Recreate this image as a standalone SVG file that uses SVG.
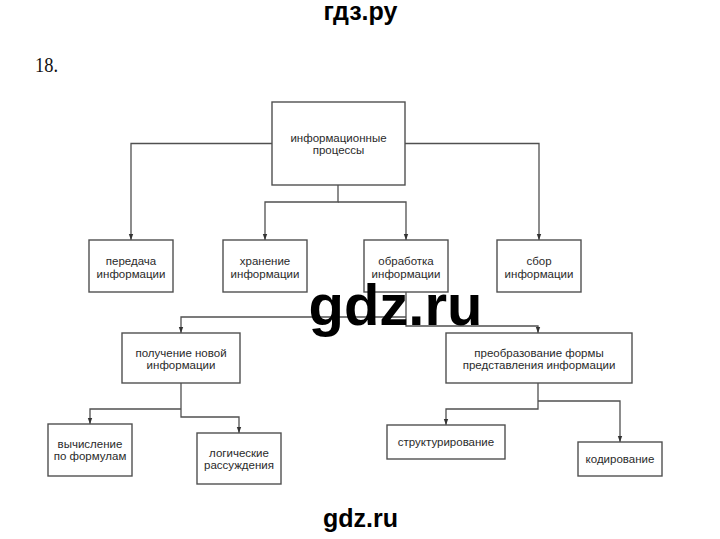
<svg xmlns="http://www.w3.org/2000/svg" width="720" height="539" viewBox="0 0 720 539">
<defs>
<marker id="ah" markerUnits="userSpaceOnUse" markerWidth="6" markerHeight="6" refX="6" refY="3" orient="auto" viewBox="0 0 6 6">
<path d="M0,0.8 L6,3 L0,5.2 Z" fill="#333"/>
</marker>
</defs>
<style>
.box{fill:#fff;stroke:#505050;stroke-width:1.4}
.lbl{font-family:"Liberation Sans",Arial,sans-serif;font-size:11.5px;fill:#2a2a2a;text-anchor:middle}
.con{fill:none;stroke:#505050;stroke-width:1.3}
.wm{font-family:"Liberation Sans",Arial,sans-serif;font-weight:bold;fill:#000;text-anchor:middle}
</style>
<rect width="720" height="539" fill="#fff"/>
<text class="wm" x="360.5" y="20" font-size="25">гдз.ру</text>
<text x="35" y="72" font-family="Liberation Serif,'Times New Roman',serif" font-size="21" fill="#111" textLength="23" lengthAdjust="spacingAndGlyphs">18.</text>

<g id="connectors">
<path class="con" d="M338,185 V202 H265 V240" marker-end="url(#ah)"/>
<path class="con" d="M338,202 H406 V240" marker-end="url(#ah)"/>
<path class="con" d="M272,143.5 H131 V240" marker-end="url(#ah)"/>
<path class="con" d="M405,143.5 H539 V240" marker-end="url(#ah)"/>
<path class="con" d="M406,292 V326 H538 V333" marker-end="url(#ah)"/>
<path class="con" d="M406,317 H181 V333" marker-end="url(#ah)"/>
<path class="con" d="M181,383 V417 H239 V433" marker-end="url(#ah)"/>
<path class="con" d="M181,409 H90 V424" marker-end="url(#ah)"/>
<path class="con" d="M538,383 V409 H446 V425" marker-end="url(#ah)"/>
<path class="con" d="M538,401 H620 V442" marker-end="url(#ah)"/>
</g>

<g id="n-info-processes">
<rect class="box" x="272" y="102" width="133" height="83"/>
<text class="lbl" x="338.5" y="141.5">информационные</text>
<text class="lbl" x="338.5" y="154">процессы</text>
</g>
<g id="n-peredacha">
<rect class="box" x="89" y="240" width="84" height="52"/>
<text class="lbl" x="131" y="265">передача</text>
<text class="lbl" x="131" y="277.5">информации</text>
</g>
<g id="n-hranenie">
<rect class="box" x="223" y="240" width="84" height="52"/>
<text class="lbl" x="265" y="265">хранение</text>
<text class="lbl" x="265" y="277.5">информации</text>
</g>
<g id="n-obrabotka">
<rect class="box" x="364" y="240" width="84" height="52"/>
<text class="lbl" x="406" y="265">обработка</text>
<text class="lbl" x="406" y="277.5">информации</text>
</g>
<g id="n-sbor">
<rect class="box" x="497" y="240" width="84" height="52"/>
<text class="lbl" x="539" y="265">сбор</text>
<text class="lbl" x="539" y="277.5">информации</text>
</g>
<g id="n-poluchenie">
<rect class="box" x="122" y="333" width="118" height="50"/>
<text class="lbl" x="181" y="356.5">получение новой</text>
<text class="lbl" x="181" y="368.5">информации</text>
</g>
<g id="n-preobrazovanie">
<rect class="box" x="446" y="333" width="186" height="50"/>
<text class="lbl" x="539" y="356.5">преобразование формы</text>
<text class="lbl" x="539" y="368.5">представления информации</text>
</g>
<g id="n-vychislenie">
<rect class="box" x="48" y="424" width="84" height="52"/>
<text class="lbl" x="90" y="448">вычисление</text>
<text class="lbl" x="90" y="460">по формулам</text>
</g>
<g id="n-logicheskie">
<rect class="box" x="197" y="433" width="84" height="51"/>
<text class="lbl" x="239" y="457">логические</text>
<text class="lbl" x="239" y="469">рассуждения</text>
</g>
<g id="n-strukturirovanie">
<rect class="box" x="387" y="425" width="118" height="34"/>
<text class="lbl" x="446" y="446">структурирование</text>
</g>
<g id="n-kodirovanie">
<rect class="box" x="578" y="442" width="84" height="34"/>
<text class="lbl" x="620" y="463">кодирование</text>
</g>

<text class="wm" x="395.5" y="325" font-size="58">gdz.ru</text>
<text class="wm" x="360.5" y="527" font-size="25">gdz.ru</text>
</svg>
